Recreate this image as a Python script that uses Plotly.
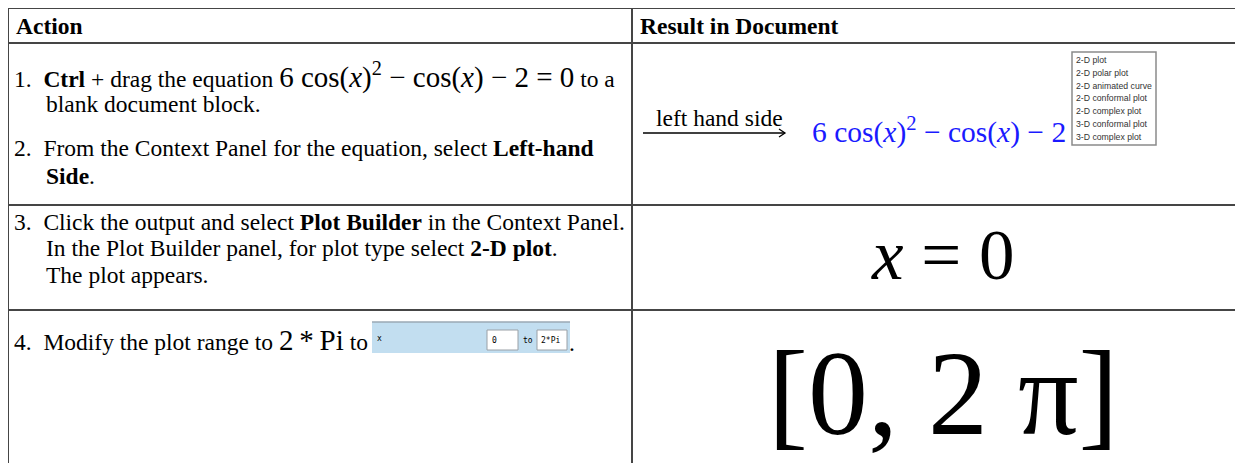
import plotly.graph_objects as go

W, H = 1243, 463
PAGE_MARGIN = 8  # default body margin of the written html page

# ---------------- content ----------------
header_labels = ["Action", "Result in Document"]
step_numbers = ["1.", "2.", "3.", "", "", "4."]
M = "<span style='font-size:29px'>"
E = "</span>"
step_lines = [
    "<b>Ctrl</b> + drag the equation " + M + "6 cos(<i>x</i>)<sup>2</sup> \u2212 cos(<i>x</i>) \u2212 2 = 0" + E + " to a",
    "From the Context Panel for the equation, select <b>Left-hand</b>",
    "Click the output and select <b>Plot Builder</b> in the Context Panel.",
    "In the Plot Builder panel, for plot type select <b>2-D plot</b>.",
    "The plot appears.",
    "Modify the plot range to " + M + "2\u2009*\u2009Pi" + E + " to",
]
step_continuations = ["blank document block.", "<b>Side</b>."]
arrow_label = "left hand side"
lhs_expression = "6 cos(<i>x</i>)<sup>2</sup> \u2212 cos(<i>x</i>) \u2212 2"
plot_types = ["2-D plot", "2-D polar plot", "2-D animated curve", "2-D conformal plot",
              "2-D complex plot", "3-D conformal plot", "3-D complex plot"]
range_variable = "x"
range_inputs = ["0", "2*Pi"]
range_to = "to"
result_solution = "<i>x</i> = 0"
result_range = "[0, 2 \u03c0]"

# ---------------- layout geometry (page pixel coordinates) ----------------
SERIF = "Liberation Serif"
BODY = 23.5
LINE = "#454545"
col_x = 632
row_y = [8, 43, 205, 310]
step_y = [75, 148, 222, 248, 275, 340]
cont_y = [104, 176]

fig = go.Figure()
fig.add_trace(go.Scatter(x=[PAGE_MARGIN, W], y=[PAGE_MARGIN, H], mode="markers",
                         marker=dict(opacity=0), hoverinfo="skip", showlegend=False))

shapes = []
for y in row_y:
    shapes.append(dict(type="line", x0=8, x1=W + 5, y0=y, y1=y, line=dict(color=LINE, width=2)))
shapes.append(dict(type="line", x0=8, x1=8, y0=row_y[0], y1=H + 5, line=dict(color=LINE, width=2)))
shapes.append(dict(type="line", x0=col_x, x1=col_x, y0=row_y[0], y1=H + 5, line=dict(color=LINE, width=2)))

anns = []
def txt(x, y, s, size=BODY, color="black", family=SERIF, xanchor="left", yanchor="middle"):
    anns.append(dict(x=x, y=y, xref="x", yref="y", text=s, showarrow=False,
                     xanchor=xanchor, yanchor=yanchor,
                     font=dict(family=family, size=size, color=color)))

# header
txt(14, 26, "<b>" + header_labels[0] + "</b>")
txt(638, 26, "<b>" + header_labels[1] + "</b>")

# steps (number kept in the same text run for baseline alignment)
for num, line, y in zip(step_numbers, step_lines, step_y):
    if num:
        txt(12, y, num + "\u00a0\u00a0" + line)
    else:
        txt(44, y, line)
for line, y in zip(step_continuations, cont_y):
    txt(44, y, line)

# step 4 range widget
shapes.append(dict(type="rect", x0=372, x1=570, y0=322, y1=353, fillcolor="#c2def0",
                   line=dict(width=0), layer="below"))
shapes.append(dict(type="line", x0=372, x1=570, y0=322, y1=322, line=dict(color="#9aa9b4", width=1.5)))
shapes.append(dict(type="rect", x0=487, x1=518, y0=330, y1=350, fillcolor="white",
                   line=dict(color="#9aa0a6", width=1)))
shapes.append(dict(type="rect", x0=537, x1=567, y0=330, y1=350, fillcolor="white",
                   line=dict(color="#9aa0a6", width=1)))
txt(375, 338, range_variable, size=8, family="DejaVu Sans Mono")
txt(490, 340, range_inputs[0], size=8, family="DejaVu Sans Mono")
txt(528, 340, range_to, size=8, family="DejaVu Sans Mono", xanchor="center")
txt(539, 340, range_inputs[1], size=8, family="DejaVu Sans Mono")
txt(567, 343, ".", size=BODY)

# result row 1: arrow + lhs + dropdown
txt(719, 118, arrow_label, size=BODY, xanchor="center")
shapes.append(dict(type="line", x0=643, x1=785, y0=133, y1=133, line=dict(color="black", width=1.3)))
shapes.append(dict(type="path", path="M 779 129 L 785 133 L 779 137", line=dict(color="black", width=1.3)))
txt(810, 130, lhs_expression, size=29.5, color="#1a1aff")
shapes.append(dict(type="rect", x0=1072, x1=1156, y0=52, y1=145, fillcolor="white",
                   line=dict(color="#8a8a8a", width=1.5)))
for i, name in enumerate(plot_types):
    txt(1074, 60 + i * 12.8, name, size=8.7, color="#333", family="Liberation Sans")

# result rows 2,3
txt(943, 255, result_solution, size=71, xanchor="center")
txt(943, 393, result_range, size=120, xanchor="center")

fig.update_layout(
    width=W - PAGE_MARGIN, height=H - PAGE_MARGIN, margin=dict(l=0, r=0, t=0, b=0),
    paper_bgcolor="white", plot_bgcolor="white",
    xaxis=dict(range=[PAGE_MARGIN, W], visible=False, fixedrange=True),
    yaxis=dict(range=[H, PAGE_MARGIN], visible=False, fixedrange=True),
    shapes=shapes, annotations=anns, showlegend=False,
)
fig.write_html("out.html")
